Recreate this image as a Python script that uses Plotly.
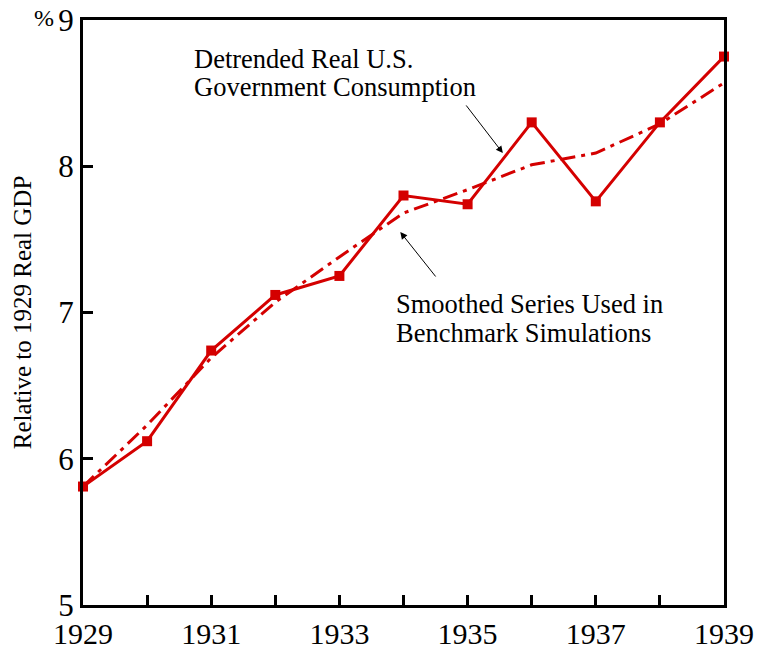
import plotly.graph_objects as go

years = [1929, 1930, 1931, 1932, 1933, 1934, 1935, 1936, 1937, 1938, 1939]
gov_consumption = [5.81, 6.12, 6.74, 7.12, 7.25, 7.80, 7.74, 8.30, 7.76, 8.30, 8.75]
smoothed = [5.81, 6.23, 6.69, 7.07, 7.38, 7.68, 7.84, 8.01, 8.09, 8.29, 8.57]
x_tick_vals = list(range(1929, 1940))
x_tick_text = [str(y) if (y - 1929) % 2 == 0 else "" for y in x_tick_vals]
y_tick_vals = [5, 6, 7, 8, 9]

RED = "#d40000"
FONT = "Liberation Serif, Times New Roman, serif"

fig = go.Figure()
fig.add_trace(go.Scatter(
    x=years, y=smoothed, mode="lines",
    line=dict(color=RED, width=3, dash="15px,6px,4px,6px"),
    cliponaxis=False, showlegend=False))
fig.add_trace(go.Scatter(
    x=years, y=gov_consumption, mode="lines+markers",
    line=dict(color=RED, width=3),
    marker=dict(symbol="square", size=10, color=RED),
    cliponaxis=False, showlegend=False))

fig.update_layout(
    width=759, height=649,
    margin=dict(l=83, r=35, t=20, b=44),
    paper_bgcolor="white", plot_bgcolor="white",
    font=dict(family=FONT, color="black"),
    xaxis=dict(range=[1929, 1939], tickvals=x_tick_vals, ticktext=x_tick_text,
               ticks="inside", ticklen=10, tickwidth=3, tickcolor="black",
               showline=True, linewidth=3, linecolor="black", mirror=True,
               showgrid=False, zeroline=False, tickfont=dict(size=30),
               automargin=False, ticklabeloverflow="allow"),
    yaxis=dict(range=[5, 9], tickvals=y_tick_vals,
               ticks="inside", ticklen=10, tickwidth=3, tickcolor="black",
               showline=True, linewidth=3, linecolor="black", mirror=True,
               showgrid=False, zeroline=False, tickfont=dict(size=31),
               automargin=False, ticklabelstandoff=0, ticklabeloverflow="allow",
               title=dict(text="Relative to 1929 Real GDP", font=dict(size=25), standoff=20)),
)

fig.add_annotation(x=0, y=9, xref="paper", yref="y", text="%", showarrow=False,
                   xanchor="center", xshift=-39, yshift=2, font=dict(size=24, family=FONT))

ann_font = dict(size=26.5, family=FONT)
for txt, yv in [("Detrended Real U.S.", 8.733), ("Government Consumption", 8.542)]:
    fig.add_annotation(x=1930.70, y=yv, xref="x", yref="y", text=txt,
                       showarrow=False, xanchor="left", yanchor="middle", font=ann_font)
for txt, yv in [("Smoothed Series Used in", 7.058), ("Benchmark Simulations", 6.86)]:
    fig.add_annotation(x=1933.85, y=yv, xref="x", yref="y", text=txt,
                       showarrow=False, xanchor="left", yanchor="middle", font=ann_font)

fig.add_annotation(x=1935.55, y=8.09, ax=1934.96, ay=8.426, xref="x", yref="y",
                   axref="x", ayref="y", text="", showarrow=True,
                   arrowhead=2, arrowsize=1.4, arrowwidth=1, arrowcolor="black")
fig.add_annotation(x=1933.95, y=7.55, ax=1934.52, ay=7.236, xref="x", yref="y",
                   axref="x", ayref="y", text="", showarrow=True,
                   arrowhead=2, arrowsize=1.4, arrowwidth=1, arrowcolor="black")

# remove the default 8px page margin so the figure fills the window exactly
fig.write_html("out.html", config={"displayModeBar": False},
               post_script="document.body.style.margin='0';")
